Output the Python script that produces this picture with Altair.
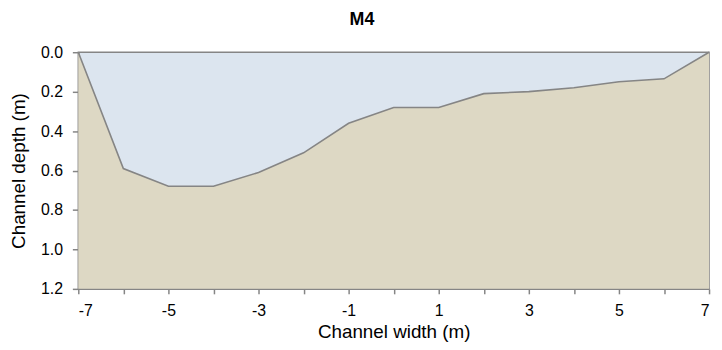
import altair as alt
import pandas as pd

width_m = [-7, -6, -5, -4, -3, -2, -1, 0, 1, 2, 3, 4, 5, 6, 7]
depth_m = [0.0, 0.59, 0.68, 0.68, 0.61, 0.51, 0.36, 0.28, 0.28, 0.21, 0.20, 0.18, 0.15, 0.135, 0.0]
x_ticks = list(range(-7, 8))
y_ticks = [0.0, 0.2, 0.4, 0.6, 0.8, 1.0, 1.2]

df = pd.DataFrame({"x": width_m, "d": depth_m, "bottom": [1.2] * len(width_m)})

FONT = "Liberation Sans"
GRAY = "#858585"

xaxis = alt.Axis(values=x_ticks, title="Channel width (m)",
                 labelExpr="datum.value % 2 != 0 ? toString(datum.value) : ''",
                 tickSize=5, labelPadding=9, titlePadding=4)
yaxis = alt.Axis(values=y_ticks, format=".1f", title="Channel depth (m)",
                 tickSize=6, labelPadding=10, titlePadding=12)
xscale = alt.Scale(domain=[-7, 7], nice=False)
yscale = alt.Scale(domain=[0, 1.2], reverse=True, nice=False)

area = alt.Chart(df).mark_area(color="#ddd8c4", opacity=1).encode(
    x=alt.X("x:Q", scale=xscale, axis=xaxis),
    y=alt.Y("d:Q", scale=yscale, axis=yaxis),
    y2="bottom:Q",
)
line = alt.Chart(df).mark_line(color=GRAY, strokeWidth=1.6).encode(
    x=alt.X("x:Q", scale=xscale, axis=xaxis),
    y=alt.Y("d:Q", scale=yscale, axis=yaxis),
)

chart = (area + line).properties(
    width=637, height=239,
    background="white",
    title=alt.TitleParams("M4", font=FONT, fontSize=18, fontWeight="bold",
                          color="black", anchor="middle", dx=-32, offset=15),
    padding={"left": 71, "top": 43, "right": 5, "bottom": 52},
    autosize=alt.AutoSizeParams(type="none"),
).configure_view(
    fill="#dce5ef", stroke=GRAY, strokeWidth=1.5
).configure_axis(
    grid=False, domainColor=GRAY, tickColor=GRAY,
    labelFontSize=16, titleFontSize=19, labelFont=FONT, titleFont=FONT,
    titleFontWeight="normal", labelColor="black", titleColor="black",
    labelOverlap=False, domainWidth=1.5, tickWidth=1.5,
)

chart.save("out.html", embed_options={"renderer": "svg", "actions": False})
